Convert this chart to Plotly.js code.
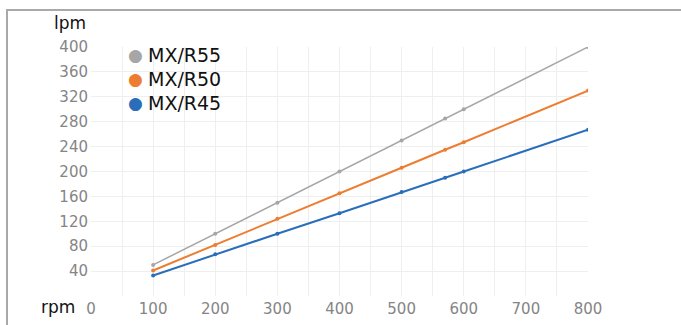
<!DOCTYPE html>
<html>
<head>
<meta charset="utf-8">
<script src="https://cdn.plot.ly/plotly-3.0.1.min.js"></script>
<style>html,body{margin:0;padding:0;background:#fff;}#chart{width:681px;height:325px;}</style>
</head>
<body>
<div id="chart"></div>
<script>
const rpm = [100, 200, 300, 400, 500, 570, 600, 800];
const lpmR55 = [50, 100, 150, 200, 250, 285, 300, 400];
const lpmR50 = [41, 82, 124, 165, 206, 235, 247, 330];
const lpmR45 = [33, 67, 100, 133, 167, 190, 200, 267];
const seriesNames = ['MX/R55', 'MX/R50', 'MX/R45'];
const seriesColors = ['#a6a6a6', '#ed7d31', '#2a6ebb'];
const xTicks = [0, 100, 200, 300, 400, 500, 600, 700, 800];
const yTicks = [40, 80, 120, 160, 200, 240, 280, 320, 360, 400];

const seriesValues = [lpmR55, lpmR50, lpmR45];
const widths = [1.5, 2, 2];
const traces = seriesValues.map((v, i) => ({
  x: rpm, y: v, name: seriesNames[i], type: 'scatter', mode: 'lines+markers',
  line: {color: seriesColors[i], width: widths[i]},
  marker: {color: seriesColors[i], size: 4},
  showlegend: false, hoverinfo: 'x+y'
}));

const annotations = [
  {text: 'lpm', xref: 'paper', yref: 'paper', x: -0.042, y: 1.095, xanchor: 'center', yanchor: 'middle', showarrow: false,
   font: {family: 'DejaVu Sans', size: 17, color: '#111'}},
  {text: 'rpm', xref: 'paper', yref: 'paper', x: -0.066, y: -0.045, xanchor: 'center', yanchor: 'middle', showarrow: false,
   font: {family: 'DejaVu Sans', size: 17, color: '#111'}}
];
seriesNames.forEach((n, i) => {
  const yp = (296 - (55 + 24 * i)) / 249;
  annotations.push({text: '●', xref: 'paper', yref: 'paper', x: (135 - 91) / 497, y: yp, xanchor: 'center', yanchor: 'middle',
    showarrow: false, font: {family: 'DejaVu Sans', size: 17, color: seriesColors[i]}});
  annotations.push({text: n, xref: 'paper', yref: 'paper', x: (146 - 91) / 497, y: yp, xanchor: 'left', yanchor: 'middle',
    showarrow: false, font: {family: 'DejaVu Sans', size: 19, color: '#111'}});
});

const layout = {
  width: 681, height: 325,
  margin: {l: 91, r: 93, t: 47, b: 29, pad: 0},
  paper_bgcolor: '#ffffff', plot_bgcolor: '#ffffff',
  showlegend: false,
  xaxis: {
    range: [0, 800], tickvals: xTicks, ticktext: xTicks.map(String),
    showgrid: true, gridcolor: '#efefef', gridwidth: 1, zeroline: false, showline: false,
    minor: {dtick: 50, showgrid: true, gridcolor: '#efefef', gridwidth: 1},
    ticks: '', tickfont: {family: 'DejaVu Sans', size: 15, color: '#858585'}, ticklabelstandoff: 2
  },
  yaxis: {
    range: [0, 400], tickvals: yTicks, ticktext: yTicks.map(String),
    showgrid: true, gridcolor: '#efefef', gridwidth: 1, zeroline: false, showline: false,
    ticks: '', tickfont: {family: 'DejaVu Sans', size: 15, color: '#858585'}, ticklabelstandoff: 2
  },
  annotations: annotations,
  shapes: [
    {type: 'rect', xref: 'paper', yref: 'paper', x0: (7 - 91) / 497, x1: 1.5, y0: -0.5, y1: (296 - 10) / 249,
     line: {color: '#a9a9a9', width: 2}, fillcolor: 'rgba(0,0,0,0)', layer: 'below'}
  ]
};

Plotly.newPlot('chart', traces, layout, {displayModeBar: false, staticPlot: true});
</script>
</body>
</html>
